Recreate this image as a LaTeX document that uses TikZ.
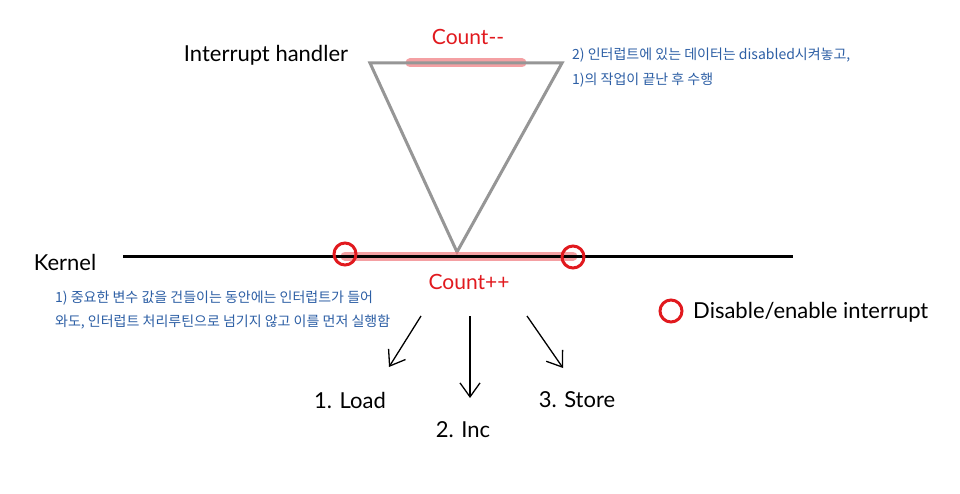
\documentclass[tikz,border=0pt]{standalone}
\usepackage{fontspec}
\setmainfont{Lato}
\newfontfamily\kr{Noto Sans CJK KR}
\usetikzlibrary{arrows.meta}
\definecolor{hred}{RGB}{225,25,30}
\definecolor{hlight}{RGB}{240,120,125}
\definecolor{nblue}{RGB}{45,95,165}
\definecolor{tgray}{RGB}{150,150,150}
\tikzset{
  bigtxt/.style={font=\fontsize{22}{24}\selectfont, text=black, inner sep=0pt},
  redtxt/.style={font=\fontsize{21}{23}\selectfont, text=hred, inner sep=0pt},
  note/.style={font=\kr\fontsize{14}{16}\selectfont, text=nblue, inner sep=0pt, anchor=west},
  ring/.style={circle, draw=hred, line width=3pt, minimum size=22pt, inner sep=0pt},
  glow/.style={line width=9pt, draw=hlight, opacity=0.7, line cap=round},
  arr/.style={line width=1.3pt, -{Straight Barb[length=14pt,width=20pt,line width=1.3pt]}}
}
\begin{document}
\begin{tikzpicture}[x=1pt,y=-1pt]
\useasboundingbox (0,0) rectangle (960,494);
\fill[white] (0,0) rectangle (960,494);
% triangle
\coordinate (tl) at (370,63);
\coordinate (tr) at (562,63);
\coordinate (tb) at (457,252);
\draw[glow] (410,63) -- (522,63);
\draw[tgray, line width=3pt, line join=miter] (tl) -- (tr) -- (tb) -- cycle;
\node[redtxt] (cm) at (468,37) {Count{-}{-}};
\node[bigtxt] (ih) at (266,55) {Interrupt handler};
\node[note] (n2a) at (572,55) {2) 인터럽트에 있는 데이터는 disabled시켜놓고,};
\node[note] (n2b) at (572,80) {1)의 작업이 끝난 후 수행};
% kernel line
\coordinate (kl) at (123,256);
\coordinate (kr) at (793,256);
\draw[glow] (345,256) -- (573,256);
\draw[black, line width=3pt] (kl) -- (kr);
\node[ring] (c1) at (345,254) {};
\node[ring] (c2) at (573,257) {};
\node[bigtxt] (kn) at (65,262) {Kernel};
\node[redtxt] (cp) at (469,282) {Count++};
\node[note] (n1a) at (55,298) {1) 중요한 변수 값을 건들이는 동안에는 인터럽트가 들어};
\node[note] (n1b) at (55,322) {와도, 인터럽트 처리루틴으로 넘기지 않고 이를 먼저 실행함};
% legend
\node[ring] (lc) at (671,311) {};
\node[bigtxt, anchor=west] (lt) at (693,312) {Disable/enable interrupt};
% steps
\node[bigtxt] (s1) at (350,400) {1. Load};
\node[bigtxt] (s2) at (463,430) {2. Inc};
\node[bigtxt] (s3) at (577,400) {3. Store};
\coordinate (a1) at (421,316);
\coordinate (a2) at (470,316);
\coordinate (a3) at (527,316);
\draw[arr] (a1) -- (389,367);
\draw[arr] (a2) -- (470,398);
\draw[arr] (a3) -- (563,368);
\end{tikzpicture}
\end{document}
